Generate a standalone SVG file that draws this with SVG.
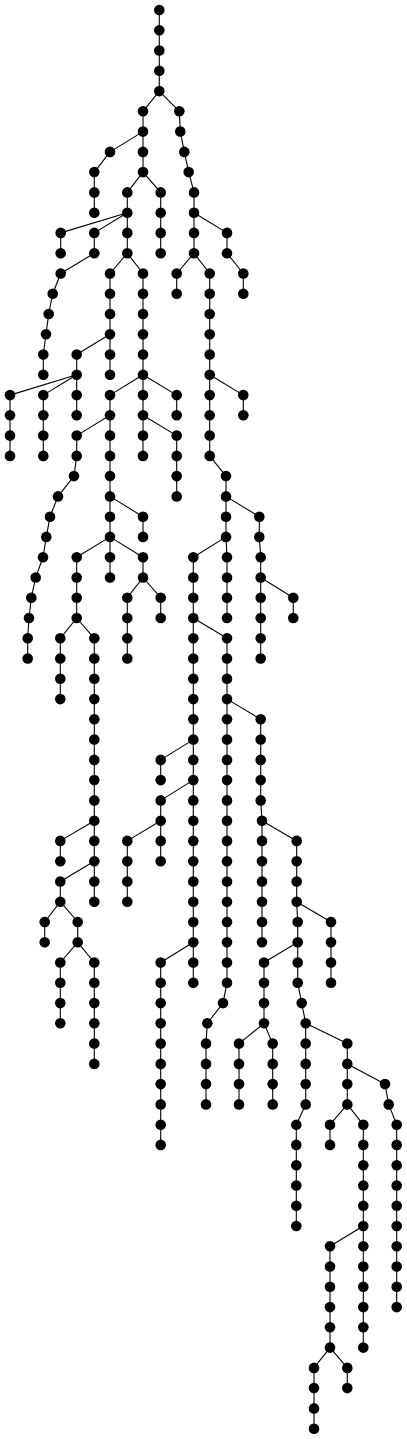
<svg xmlns="http://www.w3.org/2000/svg" width="407" height="1439" viewBox="0 0 407 1439">
<style>
#edges line{stroke:#000;stroke-width:1.1;fill:none}
.nd use{fill:#000}
</style>
<defs><circle id="d" cx="0" cy="0" r="5.3"/></defs>
<rect width="407" height="1439" fill="#fff"/>
<g id="edges">
<line x1="159.3" y1="10" x2="159.3" y2="30.3"/><line x1="159.3" y1="30.3" x2="159.3" y2="50.5"/><line x1="159.3" y1="50.5" x2="159.3" y2="70.8"/><line x1="159.3" y1="70.8" x2="159.3" y2="91.1"/>
<line x1="159.3" y1="91.1" x2="143" y2="111.3"/><line x1="143" y1="111.3" x2="143" y2="131.6"/><line x1="143" y1="131.6" x2="143" y2="151.9"/><line x1="143" y1="151.9" x2="143" y2="172.1"/>
<line x1="159.3" y1="91.1" x2="179.3" y2="111.3"/><line x1="179.3" y1="111.3" x2="180.3" y2="131.6"/><line x1="180.3" y1="131.6" x2="184.3" y2="151.9"/><line x1="184.3" y1="151.9" x2="188.7" y2="172.1"/><line x1="188.7" y1="172.1" x2="194" y2="192.4"/><line x1="194" y1="192.4" x2="194" y2="212.7"/><line x1="194" y1="212.7" x2="194" y2="232.9"/><line x1="194" y1="232.9" x2="194" y2="253.2"/>
<line x1="143" y1="131.6" x2="110" y2="151.9"/><line x1="110" y1="151.9" x2="94.3" y2="172.1"/><line x1="94.3" y1="172.1" x2="94.3" y2="192.4"/><line x1="94.3" y1="192.4" x2="94.3" y2="212.7"/>
<line x1="143" y1="172.1" x2="127.3" y2="192.4"/><line x1="127.3" y1="192.4" x2="127.3" y2="212.7"/><line x1="127.3" y1="212.7" x2="127.3" y2="232.9"/><line x1="127.3" y1="232.9" x2="127.3" y2="253.2"/>
<line x1="143" y1="172.1" x2="160.7" y2="192.4"/><line x1="160.7" y1="192.4" x2="160.7" y2="212.7"/><line x1="160.7" y1="212.7" x2="160.7" y2="232.9"/><line x1="160.7" y1="232.9" x2="160.7" y2="253.2"/>
<line x1="127.3" y1="212.7" x2="60.7" y2="232.9"/><line x1="60.7" y1="232.9" x2="60.7" y2="253.2"/>
<line x1="127.3" y1="212.7" x2="94.3" y2="232.9"/><line x1="94.3" y1="232.9" x2="94.3" y2="253.2"/><line x1="94.3" y1="253.2" x2="60.7" y2="273.5"/><line x1="60.7" y1="273.5" x2="52.7" y2="293.7"/><line x1="52.7" y1="293.7" x2="48.7" y2="314"/><line x1="48.7" y1="314" x2="46" y2="334.3"/><line x1="46" y1="334.3" x2="43.3" y2="354.5"/><line x1="43.3" y1="354.5" x2="43.3" y2="374.8"/>
<line x1="194" y1="212.7" x2="227" y2="232.9"/><line x1="227" y1="232.9" x2="227" y2="253.2"/><line x1="227" y1="253.2" x2="243.3" y2="273.5"/><line x1="243.3" y1="273.5" x2="243.3" y2="293.7"/>
<line x1="127.3" y1="253.2" x2="110" y2="273.5"/><line x1="110" y1="273.5" x2="110" y2="293.7"/><line x1="110" y1="293.7" x2="110" y2="314"/><line x1="110" y1="314" x2="110" y2="334.3"/><line x1="110" y1="334.3" x2="110" y2="354.5"/><line x1="110" y1="354.5" x2="110" y2="374.8"/>
<line x1="127.3" y1="253.2" x2="143" y2="273.5"/><line x1="143" y1="273.5" x2="143" y2="293.7"/><line x1="143" y1="293.7" x2="143" y2="314"/><line x1="143" y1="314" x2="143" y2="334.3"/><line x1="143" y1="334.3" x2="143" y2="354.5"/><line x1="143" y1="354.5" x2="143" y2="374.8"/>
<line x1="194" y1="253.2" x2="176.7" y2="273.5"/><line x1="176.7" y1="273.5" x2="176.7" y2="293.7"/>
<line x1="194" y1="253.2" x2="209.7" y2="273.5"/><line x1="209.7" y1="273.5" x2="209.7" y2="293.7"/><line x1="209.7" y1="293.7" x2="209.7" y2="314"/><line x1="209.7" y1="314" x2="209.7" y2="334.3"/><line x1="209.7" y1="334.3" x2="209.7" y2="354.5"/><line x1="209.7" y1="354.5" x2="209.7" y2="374.8"/><line x1="209.7" y1="374.8" x2="209.7" y2="395.1"/><line x1="209.7" y1="395.1" x2="209.7" y2="415.3"/><line x1="209.7" y1="415.3" x2="209.7" y2="435.6"/><line x1="209.7" y1="435.6" x2="209.7" y2="455.9"/><line x1="209.7" y1="455.9" x2="226" y2="476.1"/><line x1="226" y1="476.1" x2="226" y2="496.4"/><line x1="226" y1="496.4" x2="226" y2="516.7"/><line x1="226" y1="516.7" x2="226" y2="536.9"/>
<line x1="110" y1="334.3" x2="76.7" y2="354.5"/><line x1="76.7" y1="354.5" x2="76.7" y2="374.8"/>
<line x1="76.7" y1="374.8" x2="10" y2="395.1"/><line x1="10" y1="395.1" x2="10" y2="415.3"/><line x1="10" y1="415.3" x2="10" y2="435.6"/><line x1="10" y1="435.6" x2="10" y2="455.9"/>
<line x1="76.7" y1="374.8" x2="43.3" y2="395.1"/><line x1="43.3" y1="395.1" x2="43.3" y2="415.3"/><line x1="43.3" y1="415.3" x2="43.3" y2="435.6"/><line x1="43.3" y1="435.6" x2="43.3" y2="455.9"/>
<line x1="76.7" y1="374.8" x2="76.7" y2="395.1"/><line x1="76.7" y1="395.1" x2="76.7" y2="415.3"/>
<line x1="143" y1="374.8" x2="110" y2="395.1"/><line x1="110" y1="395.1" x2="110" y2="415.3"/>
<line x1="143" y1="374.8" x2="143" y2="395.1"/><line x1="143" y1="395.1" x2="143" y2="415.3"/><line x1="143" y1="415.3" x2="143" y2="435.6"/><line x1="143" y1="435.6" x2="143" y2="455.9"/>
<line x1="143" y1="374.8" x2="176.7" y2="395.1"/><line x1="176.7" y1="395.1" x2="176.7" y2="415.3"/>
<line x1="209.7" y1="374.8" x2="243.3" y2="395.1"/><line x1="243.3" y1="395.1" x2="243.3" y2="415.3"/>
<line x1="110" y1="415.3" x2="76.7" y2="435.6"/><line x1="76.7" y1="435.6" x2="76.7" y2="455.9"/><line x1="76.7" y1="455.9" x2="74" y2="476.1"/><line x1="74" y1="476.1" x2="58" y2="496.4"/><line x1="58" y1="496.4" x2="50" y2="516.7"/><line x1="50" y1="516.7" x2="46.3" y2="536.9"/><line x1="46.3" y1="536.9" x2="43" y2="557.2"/><line x1="43" y1="557.2" x2="35.7" y2="577.5"/><line x1="35.7" y1="577.5" x2="31.3" y2="597.7"/><line x1="31.3" y1="597.7" x2="29" y2="618"/><line x1="29" y1="618" x2="27.7" y2="638.3"/><line x1="27.7" y1="638.3" x2="27.7" y2="658.5"/>
<line x1="110" y1="415.3" x2="110" y2="435.6"/><line x1="110" y1="435.6" x2="110" y2="455.9"/><line x1="110" y1="455.9" x2="110" y2="476.1"/><line x1="110" y1="476.1" x2="110" y2="496.4"/><line x1="110" y1="496.4" x2="110" y2="516.7"/><line x1="110" y1="516.7" x2="110" y2="536.9"/>
<line x1="143" y1="415.3" x2="176.7" y2="435.6"/><line x1="176.7" y1="435.6" x2="176.7" y2="455.9"/><line x1="176.7" y1="455.9" x2="176.7" y2="476.1"/><line x1="176.7" y1="476.1" x2="176.7" y2="496.4"/>
<line x1="110" y1="496.4" x2="143" y2="516.7"/><line x1="143" y1="516.7" x2="143" y2="536.9"/>
<line x1="110" y1="536.9" x2="76.7" y2="557.2"/><line x1="76.7" y1="557.2" x2="76.7" y2="577.5"/><line x1="76.7" y1="577.5" x2="76.7" y2="597.7"/><line x1="76.7" y1="597.7" x2="76.7" y2="618"/>
<line x1="110" y1="536.9" x2="110" y2="557.2"/><line x1="110" y1="557.2" x2="110" y2="577.5"/>
<line x1="110" y1="536.9" x2="143" y2="557.2"/><line x1="143" y1="557.2" x2="143" y2="577.5"/>
<line x1="226" y1="496.4" x2="259.3" y2="516.7"/><line x1="259.3" y1="516.7" x2="259.3" y2="536.9"/><line x1="259.3" y1="536.9" x2="260.7" y2="557.2"/><line x1="260.7" y1="557.2" x2="260.7" y2="577.5"/><line x1="260.7" y1="577.5" x2="260.7" y2="597.7"/><line x1="260.7" y1="597.7" x2="260.7" y2="618"/><line x1="260.7" y1="618" x2="260.7" y2="638.3"/><line x1="260.7" y1="638.3" x2="260.7" y2="658.5"/>
<line x1="226" y1="536.9" x2="193.3" y2="557.2"/><line x1="193.3" y1="557.2" x2="193.3" y2="982.8"/>
<line x1="226" y1="536.9" x2="227" y2="557.2"/><line x1="227" y1="557.2" x2="227" y2="577.5"/><line x1="227" y1="577.5" x2="227" y2="597.7"/><line x1="227" y1="597.7" x2="227" y2="618"/>
<line x1="143" y1="577.5" x2="127.3" y2="597.7"/><line x1="127.3" y1="597.7" x2="127.3" y2="618"/><line x1="127.3" y1="618" x2="127.3" y2="638.3"/><line x1="127.3" y1="638.3" x2="127.3" y2="658.5"/>
<line x1="143" y1="577.5" x2="160.7" y2="597.7"/><line x1="160.7" y1="597.7" x2="160.7" y2="618"/>
<line x1="260.7" y1="577.5" x2="293.3" y2="597.7"/><line x1="293.3" y1="597.7" x2="293.3" y2="618"/>
<line x1="76.7" y1="618" x2="60.3" y2="638.3"/><line x1="60.3" y1="638.3" x2="60.3" y2="658.5"/><line x1="60.3" y1="658.5" x2="60.3" y2="678.8"/><line x1="60.3" y1="678.8" x2="60.3" y2="699.1"/>
<line x1="76.7" y1="618" x2="94.3" y2="638.3"/><line x1="94.3" y1="638.3" x2="94.3" y2="901.7"/>
<line x1="193.3" y1="618" x2="227" y2="638.3"/><line x1="227" y1="638.3" x2="227" y2="982.8"/><line x1="227" y1="982.8" x2="223" y2="1003.1"/><line x1="223" y1="1003.1" x2="207.3" y2="1023.3"/><line x1="207.3" y1="1023.3" x2="206" y2="1043.6"/><line x1="206" y1="1043.6" x2="206" y2="1104.4"/>
<line x1="227" y1="699.1" x2="260.7" y2="719.3"/><line x1="260.7" y1="719.3" x2="260.7" y2="800.4"/><line x1="260.7" y1="800.4" x2="262" y2="820.7"/><line x1="262" y1="820.7" x2="262" y2="942.3"/>
<line x1="193.3" y1="739.6" x2="160.7" y2="759.9"/><line x1="160.7" y1="759.9" x2="160.7" y2="780.1"/>
<line x1="193.3" y1="780.1" x2="160.7" y2="800.4"/><line x1="160.7" y1="800.4" x2="160.7" y2="861.2"/>
<line x1="94.3" y1="820.7" x2="60.3" y2="840.9"/><line x1="60.3" y1="840.9" x2="60.3" y2="861.2"/>
<line x1="160.7" y1="820.7" x2="127.3" y2="840.9"/><line x1="127.3" y1="840.9" x2="127.3" y2="901.7"/>
<line x1="262" y1="820.7" x2="296.7" y2="840.9"/><line x1="296.7" y1="840.9" x2="296.7" y2="901.7"/>
<line x1="94.3" y1="861.2" x2="60.3" y2="881.5"/><line x1="60.3" y1="881.5" x2="60.3" y2="901.7"/>
<line x1="60.3" y1="901.7" x2="44.7" y2="922"/><line x1="44.7" y1="922" x2="44.7" y2="942.3"/>
<line x1="60.3" y1="901.7" x2="77.7" y2="922"/><line x1="77.7" y1="922" x2="77.7" y2="942.3"/>
<line x1="296.7" y1="901.7" x2="297.7" y2="922"/><line x1="297.7" y1="922" x2="297.7" y2="982.8"/><line x1="297.7" y1="982.8" x2="301.7" y2="1003.1"/><line x1="301.7" y1="1003.1" x2="305.7" y2="1023.3"/><line x1="305.7" y1="1023.3" x2="305.7" y2="1104.4"/><line x1="305.7" y1="1104.4" x2="296.3" y2="1124.7"/><line x1="296.3" y1="1124.7" x2="296.3" y2="1226"/>
<line x1="296.7" y1="901.7" x2="331" y2="922"/><line x1="331" y1="922" x2="331" y2="982.8"/>
<line x1="77.7" y1="942.3" x2="60.3" y2="962.5"/><line x1="60.3" y1="962.5" x2="60.3" y2="1023.3"/>
<line x1="77.7" y1="942.3" x2="94.3" y2="962.5"/><line x1="94.3" y1="962.5" x2="94.3" y2="1063.9"/>
<line x1="193.3" y1="942.3" x2="160.7" y2="962.5"/><line x1="160.7" y1="962.5" x2="160.7" y2="1144.9"/>
<line x1="297.7" y1="942.3" x2="264" y2="962.5"/><line x1="264" y1="962.5" x2="264" y2="1023.3"/>
<line x1="264" y1="1023.3" x2="239" y2="1043.6"/><line x1="239" y1="1043.6" x2="239" y2="1104.4"/>
<line x1="264" y1="1023.3" x2="272.7" y2="1043.6"/><line x1="272.7" y1="1043.6" x2="272.7" y2="1104.4"/>
<line x1="305.7" y1="1023.3" x2="347.3" y2="1043.6"/><line x1="347.3" y1="1043.6" x2="347.3" y2="1104.4"/>
<line x1="347.3" y1="1063.9" x2="385" y2="1084.1"/><line x1="385" y1="1084.1" x2="388.7" y2="1104.4"/><line x1="388.7" y1="1104.4" x2="396.7" y2="1124.7"/><line x1="396.7" y1="1124.7" x2="396.7" y2="1307.1"/>
<line x1="347.3" y1="1104.4" x2="330" y2="1124.7"/><line x1="330" y1="1124.7" x2="330" y2="1144.9"/>
<line x1="347.3" y1="1104.4" x2="363.3" y2="1124.7"/><line x1="363.3" y1="1124.7" x2="363.3" y2="1347.6"/>
<line x1="363.3" y1="1226" x2="330" y2="1246.3"/><line x1="330" y1="1246.3" x2="330" y2="1347.6"/>
<line x1="330" y1="1347.6" x2="314" y2="1367.9"/><line x1="314" y1="1367.9" x2="314" y2="1428.7"/>
<line x1="330" y1="1347.6" x2="347.3" y2="1367.9"/><line x1="347.3" y1="1367.9" x2="347.3" y2="1388.1"/>
</g>
<g class="nd">
<g id="a1"><use href="#d" x="159.3" y="10"/></g><g id="a2"><use href="#d" x="159.3" y="30.3"/></g><g id="a3"><use href="#d" x="159.3" y="50.5"/></g><g id="a4"><use href="#d" x="159.3" y="70.8"/></g><g id="a5"><use href="#d" x="159.3" y="91.1"/></g>
<g id="b1"><use href="#d" x="143" y="111.3"/></g><g id="b2"><use href="#d" x="143" y="131.6"/></g><g id="b3"><use href="#d" x="143" y="151.9"/></g><g id="b4"><use href="#d" x="143" y="172.1"/></g>
<g id="c1"><use href="#d" x="179.3" y="111.3"/></g><g id="c2"><use href="#d" x="180.3" y="131.6"/></g><g id="c3"><use href="#d" x="184.3" y="151.9"/></g><g id="c4"><use href="#d" x="188.7" y="172.1"/></g><g id="c5"><use href="#d" x="194" y="192.4"/></g><g id="c6"><use href="#d" x="194" y="212.7"/></g><g id="c7"><use href="#d" x="194" y="232.9"/></g><g id="c8"><use href="#d" x="194" y="253.2"/></g>
<g id="d1"><use href="#d" x="110" y="151.9"/></g><g id="d2"><use href="#d" x="94.3" y="172.1"/></g><g id="d3"><use href="#d" x="94.3" y="192.4"/></g><g id="d4"><use href="#d" x="94.3" y="212.7"/></g>
<g id="e1"><use href="#d" x="127.3" y="192.4"/></g><g id="e2"><use href="#d" x="127.3" y="212.7"/></g><g id="e3"><use href="#d" x="127.3" y="232.9"/></g><g id="e4"><use href="#d" x="127.3" y="253.2"/></g>
<g id="f1"><use href="#d" x="160.7" y="192.4"/></g><g id="f2"><use href="#d" x="160.7" y="212.7"/></g><g id="f3"><use href="#d" x="160.7" y="232.9"/></g><g id="f4"><use href="#d" x="160.7" y="253.2"/></g>
<g id="g1"><use href="#d" x="60.7" y="232.9"/></g><g id="g2"><use href="#d" x="60.7" y="253.2"/></g>
<g id="h1"><use href="#d" x="94.3" y="232.9"/></g><g id="h2"><use href="#d" x="94.3" y="253.2"/></g><g id="h3"><use href="#d" x="60.7" y="273.5"/></g><g id="h4"><use href="#d" x="52.7" y="293.7"/></g><g id="h5"><use href="#d" x="48.7" y="314"/></g><g id="h6"><use href="#d" x="46" y="334.3"/></g><g id="h7"><use href="#d" x="43.3" y="354.5"/></g><g id="h8"><use href="#d" x="43.3" y="374.8"/></g>
<g id="i1"><use href="#d" x="227" y="232.9"/></g><g id="i2"><use href="#d" x="227" y="253.2"/></g><g id="i3"><use href="#d" x="243.3" y="273.5"/></g><g id="i4"><use href="#d" x="243.3" y="293.7"/></g>
<g id="j1"><use href="#d" x="110" y="273.5"/></g><g id="j2"><use href="#d" x="110" y="293.7"/></g><g id="j3"><use href="#d" x="110" y="314"/></g><g id="j4"><use href="#d" x="110" y="334.3"/></g><g id="j5"><use href="#d" x="110" y="354.5"/></g><g id="j6"><use href="#d" x="110" y="374.8"/></g>
<g id="k1"><use href="#d" x="143" y="273.5"/></g><g id="k2"><use href="#d" x="143" y="293.7"/></g><g id="k3"><use href="#d" x="143" y="314"/></g><g id="k4"><use href="#d" x="143" y="334.3"/></g><g id="k5"><use href="#d" x="143" y="354.5"/></g><g id="k6"><use href="#d" x="143" y="374.8"/></g>
<g id="l1"><use href="#d" x="176.7" y="273.5"/></g><g id="l2"><use href="#d" x="176.7" y="293.7"/></g>
<g id="m1"><use href="#d" x="209.7" y="273.5"/></g><g id="m2"><use href="#d" x="209.7" y="293.7"/></g><g id="m3"><use href="#d" x="209.7" y="314"/></g><g id="m4"><use href="#d" x="209.7" y="334.3"/></g><g id="m5"><use href="#d" x="209.7" y="354.5"/></g><g id="m6"><use href="#d" x="209.7" y="374.8"/></g><g id="m7"><use href="#d" x="209.7" y="395.1"/></g><g id="m8"><use href="#d" x="209.7" y="415.3"/></g><g id="m9"><use href="#d" x="209.7" y="435.6"/></g><g id="m10"><use href="#d" x="209.7" y="455.9"/></g><g id="m11"><use href="#d" x="226" y="476.1"/></g><g id="m12"><use href="#d" x="226" y="496.4"/></g><g id="m13"><use href="#d" x="226" y="516.7"/></g><g id="m14"><use href="#d" x="226" y="536.9"/></g>
<g id="n1"><use href="#d" x="76.7" y="354.5"/></g><g id="n2"><use href="#d" x="76.7" y="374.8"/></g>
<g id="o1"><use href="#d" x="10" y="395.1"/></g><g id="o2"><use href="#d" x="10" y="415.3"/></g><g id="o3"><use href="#d" x="10" y="435.6"/></g><g id="o4"><use href="#d" x="10" y="455.9"/></g>
<g id="p1"><use href="#d" x="43.3" y="395.1"/></g><g id="p2"><use href="#d" x="43.3" y="415.3"/></g><g id="p3"><use href="#d" x="43.3" y="435.6"/></g><g id="p4"><use href="#d" x="43.3" y="455.9"/></g>
<g id="q1"><use href="#d" x="76.7" y="395.1"/></g><g id="q2"><use href="#d" x="76.7" y="415.3"/></g>
<g id="r1"><use href="#d" x="110" y="395.1"/></g><g id="r2"><use href="#d" x="110" y="415.3"/></g>
<g id="s1"><use href="#d" x="143" y="395.1"/></g><g id="s2"><use href="#d" x="143" y="415.3"/></g><g id="s3"><use href="#d" x="143" y="435.6"/></g><g id="s4"><use href="#d" x="143" y="455.9"/></g>
<g id="t1"><use href="#d" x="176.7" y="395.1"/></g><g id="t2"><use href="#d" x="176.7" y="415.3"/></g>
<g id="u1"><use href="#d" x="243.3" y="395.1"/></g><g id="u2"><use href="#d" x="243.3" y="415.3"/></g>
<g id="v1"><use href="#d" x="76.7" y="435.6"/></g><g id="v2"><use href="#d" x="76.7" y="455.9"/></g><g id="v3"><use href="#d" x="74" y="476.1"/></g><g id="v4"><use href="#d" x="58" y="496.4"/></g><g id="v5"><use href="#d" x="50" y="516.7"/></g><g id="v6"><use href="#d" x="46.3" y="536.9"/></g><g id="v7"><use href="#d" x="43" y="557.2"/></g><g id="v8"><use href="#d" x="35.7" y="577.5"/></g><g id="v9"><use href="#d" x="31.3" y="597.7"/></g><g id="v10"><use href="#d" x="29" y="618"/></g><g id="v11"><use href="#d" x="27.7" y="638.3"/></g><g id="v12"><use href="#d" x="27.7" y="658.5"/></g>
<g id="w1"><use href="#d" x="110" y="435.6"/></g><g id="w2"><use href="#d" x="110" y="455.9"/></g><g id="w3"><use href="#d" x="110" y="476.1"/></g><g id="w4"><use href="#d" x="110" y="496.4"/></g><g id="w5"><use href="#d" x="110" y="516.7"/></g><g id="w6"><use href="#d" x="110" y="536.9"/></g>
<g id="x1"><use href="#d" x="176.7" y="435.6"/></g><g id="x2"><use href="#d" x="176.7" y="455.9"/></g><g id="x3"><use href="#d" x="176.7" y="476.1"/></g><g id="x4"><use href="#d" x="176.7" y="496.4"/></g>
<g id="y1"><use href="#d" x="143" y="516.7"/></g><g id="y2"><use href="#d" x="143" y="536.9"/></g>
<g id="z1"><use href="#d" x="76.7" y="557.2"/></g><g id="z2"><use href="#d" x="76.7" y="577.5"/></g><g id="z3"><use href="#d" x="76.7" y="597.7"/></g><g id="z4"><use href="#d" x="76.7" y="618"/></g>
<g id="aa1"><use href="#d" x="110" y="557.2"/></g><g id="aa2"><use href="#d" x="110" y="577.5"/></g>
<g id="ab1"><use href="#d" x="143" y="557.2"/></g><g id="ab2"><use href="#d" x="143" y="577.5"/></g>
<g id="ac1"><use href="#d" x="259.3" y="516.7"/></g><g id="ac2"><use href="#d" x="259.3" y="536.9"/></g><g id="ac3"><use href="#d" x="260.7" y="557.2"/></g><g id="ac4"><use href="#d" x="260.7" y="577.5"/></g><g id="ac5"><use href="#d" x="260.7" y="597.7"/></g><g id="ac6"><use href="#d" x="260.7" y="618"/></g><g id="ac7"><use href="#d" x="260.7" y="638.3"/></g><g id="ac8"><use href="#d" x="260.7" y="658.5"/></g>
<g id="ad1"><use href="#d" x="193.3" y="557.2"/></g><g id="ad2"><use href="#d" x="193.3" y="577.5"/></g><g id="ad3"><use href="#d" x="193.3" y="597.7"/></g><g id="ad4"><use href="#d" x="193.3" y="618"/></g><g id="ad5"><use href="#d" x="193.3" y="638.3"/></g><g id="ad6"><use href="#d" x="193.3" y="658.5"/></g><g id="ad7"><use href="#d" x="193.3" y="678.8"/></g><g id="ad8"><use href="#d" x="193.3" y="699.1"/></g><g id="ad9"><use href="#d" x="193.3" y="719.3"/></g><g id="ad10"><use href="#d" x="193.3" y="739.6"/></g><g id="ad11"><use href="#d" x="193.3" y="759.9"/></g><g id="ad12"><use href="#d" x="193.3" y="780.1"/></g><g id="ad13"><use href="#d" x="193.3" y="800.4"/></g><g id="ad14"><use href="#d" x="193.3" y="820.7"/></g><g id="ad15"><use href="#d" x="193.3" y="840.9"/></g><g id="ad16"><use href="#d" x="193.3" y="861.2"/></g><g id="ad17"><use href="#d" x="193.3" y="881.5"/></g><g id="ad18"><use href="#d" x="193.3" y="901.7"/></g><g id="ad19"><use href="#d" x="193.3" y="922"/></g><g id="ad20"><use href="#d" x="193.3" y="942.3"/></g><g id="ad21"><use href="#d" x="193.3" y="962.5"/></g><g id="ad22"><use href="#d" x="193.3" y="982.8"/></g>
<g id="ae1"><use href="#d" x="227" y="557.2"/></g><g id="ae2"><use href="#d" x="227" y="577.5"/></g><g id="ae3"><use href="#d" x="227" y="597.7"/></g><g id="ae4"><use href="#d" x="227" y="618"/></g>
<g id="af1"><use href="#d" x="127.3" y="597.7"/></g><g id="af2"><use href="#d" x="127.3" y="618"/></g><g id="af3"><use href="#d" x="127.3" y="638.3"/></g><g id="af4"><use href="#d" x="127.3" y="658.5"/></g>
<g id="ag1"><use href="#d" x="160.7" y="597.7"/></g><g id="ag2"><use href="#d" x="160.7" y="618"/></g>
<g id="ah1"><use href="#d" x="293.3" y="597.7"/></g><g id="ah2"><use href="#d" x="293.3" y="618"/></g>
<g id="ai1"><use href="#d" x="60.3" y="638.3"/></g><g id="ai2"><use href="#d" x="60.3" y="658.5"/></g><g id="ai3"><use href="#d" x="60.3" y="678.8"/></g><g id="ai4"><use href="#d" x="60.3" y="699.1"/></g>
<g id="aj1"><use href="#d" x="94.3" y="638.3"/></g><g id="aj2"><use href="#d" x="94.3" y="658.5"/></g><g id="aj3"><use href="#d" x="94.3" y="678.8"/></g><g id="aj4"><use href="#d" x="94.3" y="699.1"/></g><g id="aj5"><use href="#d" x="94.3" y="719.3"/></g><g id="aj6"><use href="#d" x="94.3" y="739.6"/></g><g id="aj7"><use href="#d" x="94.3" y="759.9"/></g><g id="aj8"><use href="#d" x="94.3" y="780.1"/></g><g id="aj9"><use href="#d" x="94.3" y="800.4"/></g><g id="aj10"><use href="#d" x="94.3" y="820.7"/></g><g id="aj11"><use href="#d" x="94.3" y="840.9"/></g><g id="aj12"><use href="#d" x="94.3" y="861.2"/></g><g id="aj13"><use href="#d" x="94.3" y="881.5"/></g><g id="aj14"><use href="#d" x="94.3" y="901.7"/></g>
<g id="ak1"><use href="#d" x="227" y="638.3"/></g><g id="ak2"><use href="#d" x="227" y="658.5"/></g><g id="ak3"><use href="#d" x="227" y="678.8"/></g><g id="ak4"><use href="#d" x="227" y="699.1"/></g><g id="ak5"><use href="#d" x="227" y="719.3"/></g><g id="ak6"><use href="#d" x="227" y="739.6"/></g><g id="ak7"><use href="#d" x="227" y="759.9"/></g><g id="ak8"><use href="#d" x="227" y="780.1"/></g><g id="ak9"><use href="#d" x="227" y="800.4"/></g><g id="ak10"><use href="#d" x="227" y="820.7"/></g><g id="ak11"><use href="#d" x="227" y="840.9"/></g><g id="ak12"><use href="#d" x="227" y="861.2"/></g><g id="ak13"><use href="#d" x="227" y="881.5"/></g><g id="ak14"><use href="#d" x="227" y="901.7"/></g><g id="ak15"><use href="#d" x="227" y="922"/></g><g id="ak16"><use href="#d" x="227" y="942.3"/></g><g id="ak17"><use href="#d" x="227" y="962.5"/></g><g id="ak18"><use href="#d" x="227" y="982.8"/></g><g id="ak19"><use href="#d" x="223" y="1003.1"/></g><g id="ak20"><use href="#d" x="207.3" y="1023.3"/></g><g id="ak21"><use href="#d" x="206" y="1043.6"/></g><g id="ak22"><use href="#d" x="206" y="1063.9"/></g><g id="ak23"><use href="#d" x="206" y="1084.1"/></g><g id="ak24"><use href="#d" x="206" y="1104.4"/></g>
<g id="al1"><use href="#d" x="260.7" y="719.3"/></g><g id="al2"><use href="#d" x="260.7" y="739.6"/></g><g id="al3"><use href="#d" x="260.7" y="759.9"/></g><g id="al4"><use href="#d" x="260.7" y="780.1"/></g><g id="al5"><use href="#d" x="260.7" y="800.4"/></g><g id="al6"><use href="#d" x="262" y="820.7"/></g><g id="al7"><use href="#d" x="262" y="840.9"/></g><g id="al8"><use href="#d" x="262" y="861.2"/></g><g id="al9"><use href="#d" x="262" y="881.5"/></g><g id="al10"><use href="#d" x="262" y="901.7"/></g><g id="al11"><use href="#d" x="262" y="922"/></g><g id="al12"><use href="#d" x="262" y="942.3"/></g>
<g id="am1"><use href="#d" x="160.7" y="759.9"/></g><g id="am2"><use href="#d" x="160.7" y="780.1"/></g>
<g id="an1"><use href="#d" x="160.7" y="800.4"/></g><g id="an2"><use href="#d" x="160.7" y="820.7"/></g><g id="an3"><use href="#d" x="160.7" y="840.9"/></g><g id="an4"><use href="#d" x="160.7" y="861.2"/></g>
<g id="ao1"><use href="#d" x="60.3" y="840.9"/></g><g id="ao2"><use href="#d" x="60.3" y="861.2"/></g>
<g id="ap1"><use href="#d" x="127.3" y="840.9"/></g><g id="ap2"><use href="#d" x="127.3" y="861.2"/></g><g id="ap3"><use href="#d" x="127.3" y="881.5"/></g><g id="ap4"><use href="#d" x="127.3" y="901.7"/></g>
<g id="aq1"><use href="#d" x="296.7" y="840.9"/></g><g id="aq2"><use href="#d" x="296.7" y="861.2"/></g><g id="aq3"><use href="#d" x="296.7" y="881.5"/></g><g id="aq4"><use href="#d" x="296.7" y="901.7"/></g>
<g id="ar1"><use href="#d" x="60.3" y="881.5"/></g><g id="ar2"><use href="#d" x="60.3" y="901.7"/></g>
<g id="as1"><use href="#d" x="44.7" y="922"/></g><g id="as2"><use href="#d" x="44.7" y="942.3"/></g>
<g id="at1"><use href="#d" x="77.7" y="922"/></g><g id="at2"><use href="#d" x="77.7" y="942.3"/></g>
<g id="au1"><use href="#d" x="297.7" y="922"/></g><g id="au2"><use href="#d" x="297.7" y="942.3"/></g><g id="au3"><use href="#d" x="297.7" y="962.5"/></g><g id="au4"><use href="#d" x="297.7" y="982.8"/></g><g id="au5"><use href="#d" x="301.7" y="1003.1"/></g><g id="au6"><use href="#d" x="305.7" y="1023.3"/></g><g id="au7"><use href="#d" x="305.7" y="1043.6"/></g><g id="au8"><use href="#d" x="305.7" y="1063.9"/></g><g id="au9"><use href="#d" x="305.7" y="1084.1"/></g><g id="au10"><use href="#d" x="305.7" y="1104.4"/></g><g id="au11"><use href="#d" x="296.3" y="1124.7"/></g><g id="au12"><use href="#d" x="296.3" y="1144.9"/></g><g id="au13"><use href="#d" x="296.3" y="1165.2"/></g><g id="au14"><use href="#d" x="296.3" y="1185.5"/></g><g id="au15"><use href="#d" x="296.3" y="1205.7"/></g><g id="au16"><use href="#d" x="296.3" y="1226"/></g>
<g id="av1"><use href="#d" x="331" y="922"/></g><g id="av2"><use href="#d" x="331" y="942.3"/></g><g id="av3"><use href="#d" x="331" y="962.5"/></g><g id="av4"><use href="#d" x="331" y="982.8"/></g>
<g id="aw1"><use href="#d" x="60.3" y="962.5"/></g><g id="aw2"><use href="#d" x="60.3" y="982.8"/></g><g id="aw3"><use href="#d" x="60.3" y="1003.1"/></g><g id="aw4"><use href="#d" x="60.3" y="1023.3"/></g>
<g id="ax1"><use href="#d" x="94.3" y="962.5"/></g><g id="ax2"><use href="#d" x="94.3" y="982.8"/></g><g id="ax3"><use href="#d" x="94.3" y="1003.1"/></g><g id="ax4"><use href="#d" x="94.3" y="1023.3"/></g><g id="ax5"><use href="#d" x="94.3" y="1043.6"/></g><g id="ax6"><use href="#d" x="94.3" y="1063.9"/></g>
<g id="ay1"><use href="#d" x="160.7" y="962.5"/></g><g id="ay2"><use href="#d" x="160.7" y="982.8"/></g><g id="ay3"><use href="#d" x="160.7" y="1003.1"/></g><g id="ay4"><use href="#d" x="160.7" y="1023.3"/></g><g id="ay5"><use href="#d" x="160.7" y="1043.6"/></g><g id="ay6"><use href="#d" x="160.7" y="1063.9"/></g><g id="ay7"><use href="#d" x="160.7" y="1084.1"/></g><g id="ay8"><use href="#d" x="160.7" y="1104.4"/></g><g id="ay9"><use href="#d" x="160.7" y="1124.7"/></g><g id="ay10"><use href="#d" x="160.7" y="1144.9"/></g>
<g id="az1"><use href="#d" x="264" y="962.5"/></g><g id="az2"><use href="#d" x="264" y="982.8"/></g><g id="az3"><use href="#d" x="264" y="1003.1"/></g><g id="az4"><use href="#d" x="264" y="1023.3"/></g>
<g id="ba1"><use href="#d" x="239" y="1043.6"/></g><g id="ba2"><use href="#d" x="239" y="1063.9"/></g><g id="ba3"><use href="#d" x="239" y="1084.1"/></g><g id="ba4"><use href="#d" x="239" y="1104.4"/></g>
<g id="bb1"><use href="#d" x="272.7" y="1043.6"/></g><g id="bb2"><use href="#d" x="272.7" y="1063.9"/></g><g id="bb3"><use href="#d" x="272.7" y="1084.1"/></g><g id="bb4"><use href="#d" x="272.7" y="1104.4"/></g>
<g id="bc1"><use href="#d" x="347.3" y="1043.6"/></g><g id="bc2"><use href="#d" x="347.3" y="1063.9"/></g><g id="bc3"><use href="#d" x="347.3" y="1084.1"/></g><g id="bc4"><use href="#d" x="347.3" y="1104.4"/></g>
<g id="bd1"><use href="#d" x="385" y="1084.1"/></g><g id="bd2"><use href="#d" x="388.7" y="1104.4"/></g><g id="bd3"><use href="#d" x="396.7" y="1124.7"/></g><g id="bd4"><use href="#d" x="396.7" y="1144.9"/></g><g id="bd5"><use href="#d" x="396.7" y="1165.2"/></g><g id="bd6"><use href="#d" x="396.7" y="1185.5"/></g><g id="bd7"><use href="#d" x="396.7" y="1205.7"/></g><g id="bd8"><use href="#d" x="396.7" y="1226"/></g><g id="bd9"><use href="#d" x="396.7" y="1246.3"/></g><g id="bd10"><use href="#d" x="396.7" y="1266.5"/></g><g id="bd11"><use href="#d" x="396.7" y="1286.8"/></g><g id="bd12"><use href="#d" x="396.7" y="1307.1"/></g>
<g id="be1"><use href="#d" x="330" y="1124.7"/></g><g id="be2"><use href="#d" x="330" y="1144.9"/></g>
<g id="bf1"><use href="#d" x="363.3" y="1124.7"/></g><g id="bf2"><use href="#d" x="363.3" y="1144.9"/></g><g id="bf3"><use href="#d" x="363.3" y="1165.2"/></g><g id="bf4"><use href="#d" x="363.3" y="1185.5"/></g><g id="bf5"><use href="#d" x="363.3" y="1205.7"/></g><g id="bf6"><use href="#d" x="363.3" y="1226"/></g><g id="bf7"><use href="#d" x="363.3" y="1246.3"/></g><g id="bf8"><use href="#d" x="363.3" y="1266.5"/></g><g id="bf9"><use href="#d" x="363.3" y="1286.8"/></g><g id="bf10"><use href="#d" x="363.3" y="1307.1"/></g><g id="bf11"><use href="#d" x="363.3" y="1327.3"/></g><g id="bf12"><use href="#d" x="363.3" y="1347.6"/></g>
<g id="bg1"><use href="#d" x="330" y="1246.3"/></g><g id="bg2"><use href="#d" x="330" y="1266.5"/></g><g id="bg3"><use href="#d" x="330" y="1286.8"/></g><g id="bg4"><use href="#d" x="330" y="1307.1"/></g><g id="bg5"><use href="#d" x="330" y="1327.3"/></g><g id="bg6"><use href="#d" x="330" y="1347.6"/></g>
<g id="bh1"><use href="#d" x="314" y="1367.9"/></g><g id="bh2"><use href="#d" x="314" y="1388.1"/></g><g id="bh3"><use href="#d" x="314" y="1408.4"/></g><g id="bh4"><use href="#d" x="314" y="1428.7"/></g>
<g id="bi1"><use href="#d" x="347.3" y="1367.9"/></g><g id="bi2"><use href="#d" x="347.3" y="1388.1"/></g>
</g>
</svg>
